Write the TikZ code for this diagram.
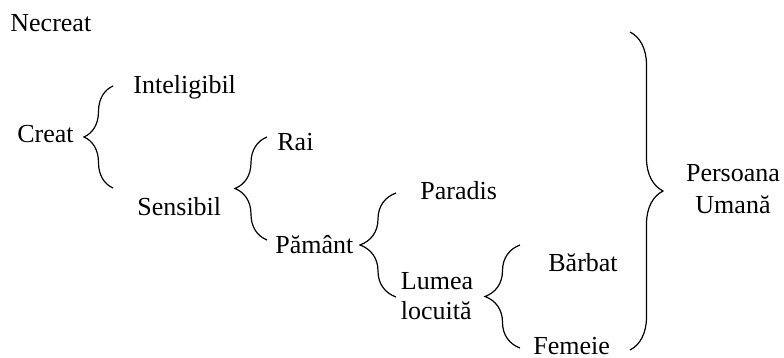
\documentclass[tikz,border=0pt]{standalone}
\usepackage{fontspec}
\setmainfont{Liberation Serif}
\usetikzlibrary{decorations.pathreplacing}
\tikzset{
	lbl/.style={inner sep=0pt,anchor=base west},
	brc/.style={decorate,decoration={brace,amplitude=#1},line width=0.6pt},
}

\begin{document}
\begin{tikzpicture}[x=0.5pt,y=-0.5pt,font=\fontsize{13}{15}\selectfont]
	\useasboundingbox (0,0) rectangle (784,358);
	\node[lbl] at (10,32) (necreat) {Necreat};
	\node[lbl] at (17,143) (creat) {Creat};
	\node[lbl] at (133,94) (inteligibil) {Inteligibil};
	\node[lbl] at (137,216) (sensibil) {Sensibil};
	\node[lbl] at (277,151) (rai) {Rai};
	\node[lbl] at (275,254) (pamant) {Pământ};
	\node[lbl] at (420,200) (paradis) {Paradis};
	\node[inner sep=0pt,align=left] at (437,296) (lumea) {Lumea\\locuită};
	\node[lbl] at (548,272) (barbat) {Bărbat};
	\node[lbl] at (533,355) (femeie) {Femeie};
	\node[inner sep=0pt,align=center,font=\fontsize{13}{16}\selectfont] at (733,189) (persoana) {Persoana\\Umană};
	\coordinate (b1s) at (113,188);
	\coordinate (b1e) at (113,86);
	\coordinate (b2s) at (267,240);
	\coordinate (b2e) at (267,137);
	\coordinate (b3s) at (396,297);
	\coordinate (b3e) at (396,193);
	\coordinate (b4s) at (520,348);
	\coordinate (b4e) at (520,245);
	\coordinate (b5s) at (630,32);
	\coordinate (b5e) at (630,350);
	\draw[brc=14.5pt] (b1s) -- (b1e);
	\draw[brc=16pt] (b2s) -- (b2e);
	\draw[brc=18pt] (b3s) -- (b3e);
	\draw[brc=17.5pt] (b4s) -- (b4e);
	\draw[brc=16.5pt] (b5s) -- (b5e);
\end{tikzpicture}
\end{document}
